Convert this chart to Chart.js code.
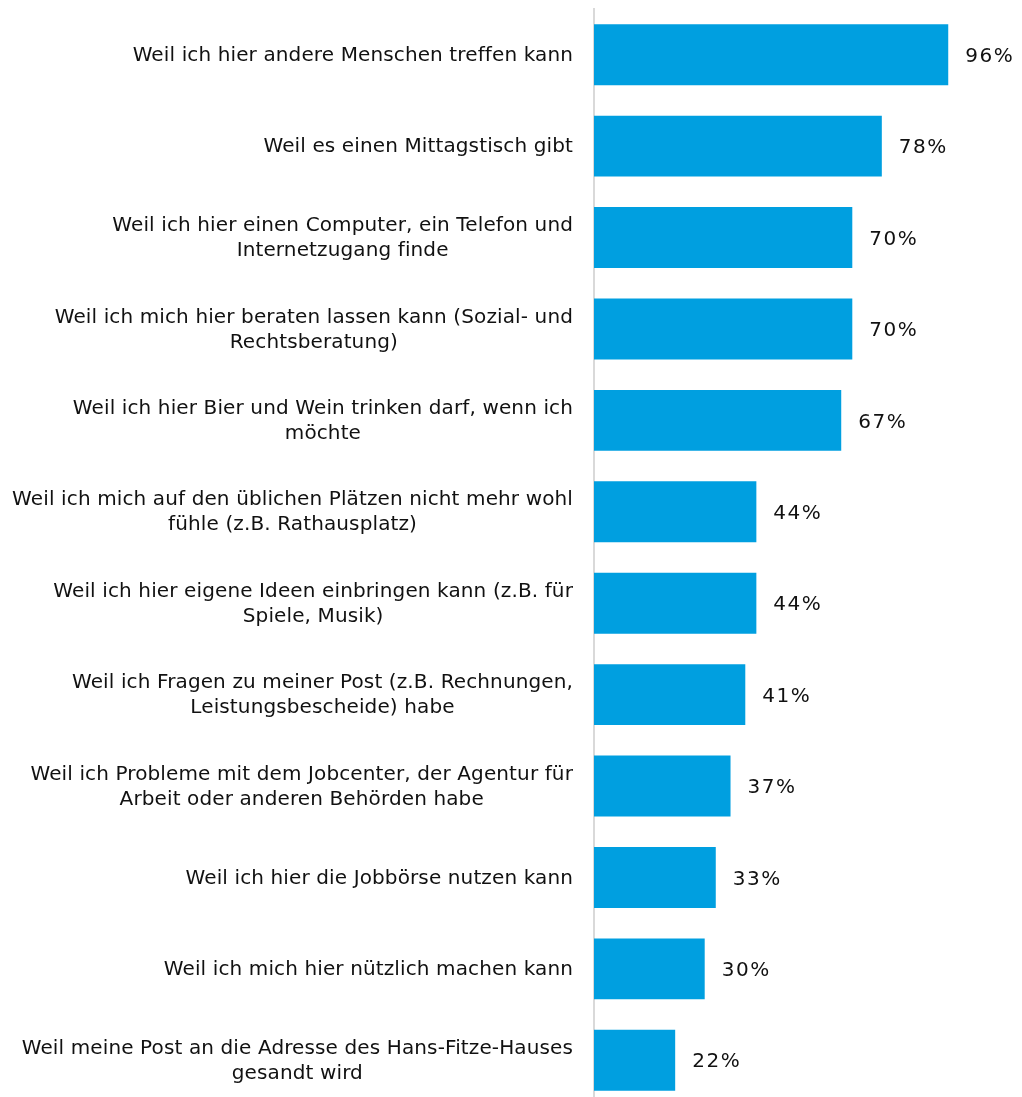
<!DOCTYPE html>
<html>
<head>
<meta charset="utf-8">
<script src="https://cdn.jsdelivr.net/npm/chart.js@4/dist/chart.umd.min.js"></script>
<style>
html,body{margin:0;padding:0;background:#fff;overflow:hidden;}
#wrap{width:1022px;height:1110px;}
</style>
</head>
<body>
<div id="wrap"><canvas id="c" width="1022" height="1110"></canvas></div>
<script>
const categories = [
  ["Weil ich hier andere Menschen treffen kann"],
  ["Weil es einen Mittagstisch gibt"],
  ["Weil ich hier einen Computer, ein Telefon und", "Internetzugang finde"],
  ["Weil ich mich hier beraten lassen kann (Sozial- und", "Rechtsberatung)"],
  ["Weil ich hier Bier und Wein trinken darf, wenn ich", "möchte"],
  ["Weil ich mich auf den üblichen Plätzen nicht mehr wohl", "fühle (z.B. Rathausplatz)"],
  ["Weil ich hier eigene Ideen einbringen kann (z.B. für", "Spiele, Musik)"],
  ["Weil ich Fragen zu meiner Post (z.B. Rechnungen,", "Leistungsbescheide) habe"],
  ["Weil ich Probleme mit dem Jobcenter, der Agentur für", "Arbeit oder anderen Behörden habe"],
  ["Weil ich hier die Jobbörse nutzen kann"],
  ["Weil ich mich hier nützlich machen kann"],
  ["Weil meine Post an die Adresse des Hans-Fitze-Hauses", "gesandt wird"]
];
const values = [96, 78, 70, 70, 67, 44, 44, 41, 37, 33, 30, 22];
const valueLabels = ["96%", "78%", "70%", "70%", "67%", "44%", "44%", "41%", "37%", "33%", "30%", "22%"];

const FONT = '20px "DejaVu Sans", Verdana, sans-serif';
const TEXT = '#111111';

const labelPlugin = {
  id: 'labelPlugin',
  afterDraw(chart) {
    const ctx = chart.ctx;
    const yScale = chart.scales.y;
    const rightEdge = chart.chartArea.left - 21;
    ctx.save();
    ctx.font = FONT;
    ctx.fillStyle = TEXT;
    ctx.textBaseline = 'middle';
    ctx.textAlign = 'center';
    ctx.letterSpacing = '0.12px';
    categories.forEach((lines, i) => {
      const y = yScale.getPixelForTick(i);
      const w = Math.max(...lines.map(l => ctx.measureText(l).width));
      const cx = rightEdge - w / 2;
      const lh = 25;
      lines.forEach((l, j) => {
        ctx.fillText(l, cx, y + (j - (lines.length - 1) / 2) * lh + 1);
      });
    });
    // value labels
    ctx.textAlign = 'left';
    ctx.letterSpacing = '1.5px';
    const meta = chart.getDatasetMeta(0);
    meta.data.forEach((bar, i) => {
      ctx.fillText(valueLabels[i], bar.x + 17, bar.y + 2);
    });
    ctx.restore();
  }
};

new Chart(document.getElementById('c'), {
  type: 'bar',
  data: {
    labels: categories,
    datasets: [{
      data: values,
      backgroundColor: '#009FE0',
      borderWidth: 0,
      barPercentage: 0.667,
      categoryPercentage: 1
    }]
  },
  options: {
    indexAxis: 'y',
    responsive: false,
    animation: false,
    layout: { padding: { top: 9, right: 59, bottom: 4, left: 0 } },
    plugins: { legend: { display: false }, tooltip: { enabled: false } },
    scales: {
      x: { display: false, min: 0, max: 100 },
      y: {
        grid: { display: false, drawTicks: false },
        border: { display: true, color: '#d9d9d9', width: 2 },
        ticks: { display: false },
        afterFit(s) { s.width = 594; }
      }
    }
  },
  plugins: [labelPlugin]
});
</script>
</body>
</html>
